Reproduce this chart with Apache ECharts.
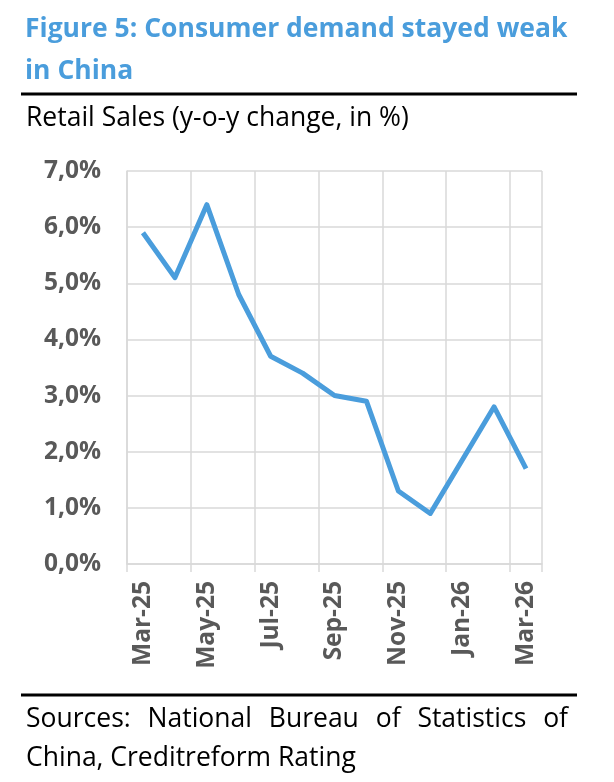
<!DOCTYPE html>
<html>
<head>
<meta charset="utf-8">
<script src="https://cdn.jsdelivr.net/npm/echarts@6/dist/echarts.min.js"></script>
<style>
    html, body { margin: 0; padding: 0; background: #ffffff; }
    #chart { width: 614px; height: 782px; }
</style>
</head>
<body>
<div id="chart"></div>
<script>
"use strict";

// monthly retail sales, y-o-y in %
var months = ['Mar-25', 'Apr-25', 'May-25', 'Jun-25', 'Jul-25', 'Aug-25', 'Sep-25',
    'Oct-25', 'Nov-25', 'Dec-25', 'Jan-26', 'Feb-26', 'Mar-26'];
// Jan and Feb are reported together, so Jan has no own value
var retailSales = [5.9, 5.1, 6.4, 4.8, 3.7, 3.4, 3.0, 2.9, 1.3, 0.9, null, 2.8, 1.7];
var yTicks = [0, 1, 2, 3, 4, 5, 6, 7];

var titleText = 'Figure 5: Consumer demand stayed weak\nin China';
var subText = 'Retail Sales (y-o-y change, in %)';
var sourceLine1 = ['Sources:', 'National', 'Bureau', 'of', 'Statistics', 'of'];
var sourceLine2 = 'China, Creditreform Rating';

var blue = '#4a9ddc';
var gridGrey = '#d9d9d9';
var labelGrey = '#595959';
var fontName = '"Open Sans", "Noto Sans", sans-serif';
var bodyFont = '26.5px ' + fontName;

var dom = document.getElementById('chart');
var myChart = echarts.init(dom, null, { renderer: 'canvas' });

// spread the first sources line over the full width, like a justified paragraph
var ctx = document.createElement('canvas').getContext('2d');
ctx.font = bodyFont;
var leftX = 26, rightX = 568;
var widths = sourceLine1.map(function (w) { return ctx.measureText(w).width; });
var total = widths.reduce(function (a, b) { return a + b; }, 0);
var gap = (rightX - leftX - total) / (sourceLine1.length - 1);
var sourceWords = [];
var xPos = leftX;
sourceLine1.forEach(function (w, i) {
    sourceWords.push({
        type: 'text', left: xPos, top: 706,
        style: { text: w, font: bodyFont, fill: '#000000' }
    });
    xPos += widths[i] + gap;
});

var option = {
    animation: false,
    backgroundColor: '#ffffff',
    title: {
        text: titleText,
        left: 20,
        top: 3,
        textStyle: {
            color: blue,
            fontFamily: fontName,
            fontWeight: 'bold',
            fontSize: 26.5,
            lineHeight: 42
        }
    },
    graphic: [
        { type: 'line', shape: { x1: 21, y1: 94, x2: 577, y2: 94 }, style: { stroke: '#000000', lineWidth: 3 } },
        { type: 'text', left: 26, top: 105, style: { text: subText, font: bodyFont, fill: '#000000' } },
        { type: 'line', shape: { x1: 21, y1: 695, x2: 577, y2: 695 }, style: { stroke: '#000000', lineWidth: 3 } },
        { type: 'text', left: 26, top: 745, style: { text: sourceLine2, font: bodyFont, fill: '#000000' } }
    ].concat(sourceWords),
    grid: {
        left: 127,
        right: 72,
        top: 171,
        bottom: 218,
        containLabel: false
    },
    xAxis: {
        type: 'category',
        data: months,
        boundaryGap: true,
        axisLine: { show: true, lineStyle: { color: gridGrey, width: 1.5 } },
        axisTick: { show: true, interval: 1, length: 8, lineStyle: { color: gridGrey, width: 1.5 } },
        axisLabel: {
            interval: 1,
            rotate: 90,
            margin: 17,
            color: labelGrey,
            fontFamily: fontName,
            fontWeight: 'bold',
            fontSize: 24.5
        },
        splitLine: { show: true, interval: 1, lineStyle: { color: gridGrey, width: 1.5 } }
    },
    yAxis: {
        type: 'value',
        min: yTicks[0],
        max: yTicks[yTicks.length - 1],
        interval: 1,
        axisLine: { show: true, lineStyle: { color: gridGrey, width: 1.5 } },
        axisTick: { show: false },
        axisLabel: {
            margin: 26,
            color: labelGrey,
            fontFamily: fontName,
            fontWeight: 'bold',
            fontSize: 24.5,
            formatter: function (v) { return v.toFixed(1).replace('.', ',') + '%'; }
        },
        splitLine: { show: true, lineStyle: { color: gridGrey, width: 1.5 } }
    },
    series: [
        {
            name: 'Retail Sales',
            type: 'line',
            data: retailSales,
            connectNulls: true,
            symbol: 'none',
            lineStyle: { color: blue, width: 5, join: 'round' }
        }
    ]
};

if (option && typeof option === 'object') {
    myChart.setOption(option);
}
</script>
</body>
</html>
